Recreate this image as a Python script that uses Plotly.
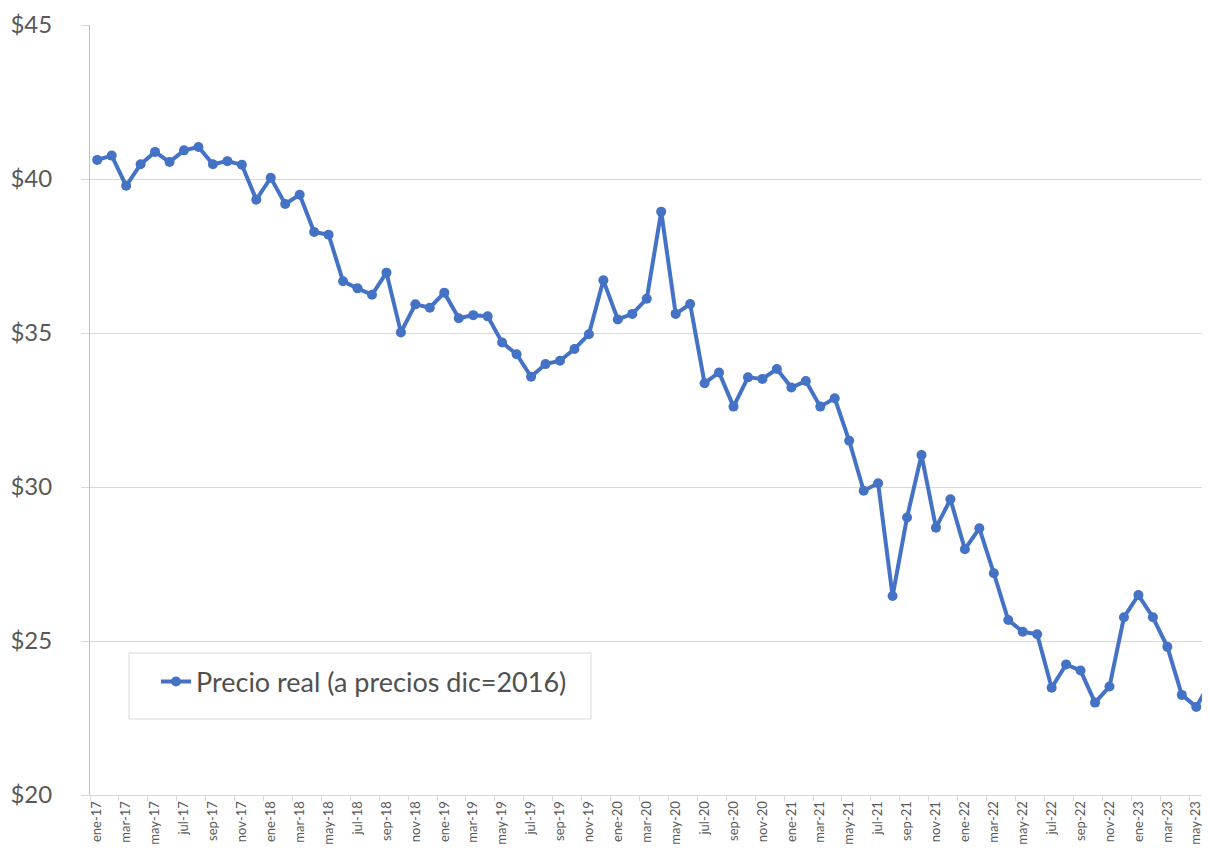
import plotly.graph_objects as go

months_es = ["ene", "feb", "mar", "abr", "may", "jun", "jul", "ago", "sep", "oct", "nov", "dic"]
categories = [f"{m}-{y:02d}" for y in range(17, 24) for m in months_es][:78]

precio_real = [
    40.62, 40.76, 39.78, 40.48, 40.88, 40.55, 40.93, 41.04, 40.48, 40.58, 40.46, 39.33,
    40.04, 39.19, 39.49, 38.28, 38.19, 36.68, 36.45, 36.24, 36.96, 35.02, 35.93, 35.82,
    36.31, 35.48, 35.58, 35.54, 34.69, 34.31, 33.58, 33.99, 34.10, 34.48, 34.96, 36.71,
    35.44, 35.62, 36.11, 38.94, 35.62, 35.94, 33.37, 33.72, 32.61, 33.56, 33.51, 33.83,
    33.23, 33.44, 32.61, 32.88, 31.50, 29.88, 30.12, 26.46, 29.01, 31.04, 28.68, 29.60,
    27.98, 28.66, 27.20, 25.68, 25.30, 25.22, 23.48, 24.24, 24.04, 23.00, 23.52, 25.77,
    26.49, 25.77, 24.81, 23.25, 22.86, 23.68,
]

y_ticks = [20, 25, 30, 35, 40, 45]
y_tick_labels = ["$20", "$25", "$30", "$35", "$40", "$45"]

idx = list(range(len(categories)))
label_idx = idx[::2]
label_text = [categories[i] for i in label_idx]

# plot area in page pixels: x 90..1210, y 25..795 (page body has an 8px offset)
PX0, PX1, PY0, PY1 = 90, 1210, 25, 795
def px(xp):
    return (xp - PX0) / (PX1 - PX0)
def py(yp):
    return (PY1 - yp) / (PY1 - PY0)

fig = go.Figure()
fig.add_trace(go.Scatter(
    x=idx, y=precio_real, mode="lines+markers",
    name="Precio real (a precios dic=2016)",
    line=dict(color="#4472C4", width=4),
    marker=dict(color="#4472C4", size=10),
))

fig.add_shape(
    type="rect", xref="paper", yref="paper",
    x0=px(129), x1=px(591), y0=py(719), y1=py(653),
    line=dict(color="#D9D9D9", width=1), fillcolor="white", layer="above",
)

fig.update_layout(
    width=1202, height=840,
    margin=dict(l=82, r=0, t=17, b=53),
    paper_bgcolor="white", plot_bgcolor="white",
    font=dict(family="Lato, Carlito, sans-serif", color="#595959"),
    showlegend=True,
    legend=dict(
        x=px(156), y=py(682), xanchor="left", yanchor="middle",
        borderwidth=0, bgcolor="rgba(0,0,0,0)",
        font=dict(size=27, color="#505050"),
    ),
    xaxis=dict(
        range=[-0.5, 76.95],
        tickmode="array", tickvals=label_idx, ticktext=label_text,
        tickangle=-90, tickfont=dict(size=13, family="Liberation Sans Narrow, Lato, sans-serif", color="#595959"),
        ticks="", showgrid=False, zeroline=False,
        showline=True, linecolor="#D9D9D9", linewidth=1,
        minor=dict(ticks="outside", tick0=-0.5, dtick=2, ticklen=5, tickcolor="#D9D9D9", showgrid=False),
    ),
    yaxis=dict(
        range=[20, 45],
        tickmode="array", tickvals=y_ticks, ticktext=y_tick_labels,
        tickfont=dict(size=24, color="#595959"),
        ticklabelstandoff=24,
        showgrid=True, gridcolor="#D9D9D9", gridwidth=1,
        zeroline=False, showline=True, linecolor="#BFBFBF", linewidth=1,
        ticks="outside", ticklen=8, tickcolor="#D9D9D9",
    ),
)

fig.write_html("out.html")
